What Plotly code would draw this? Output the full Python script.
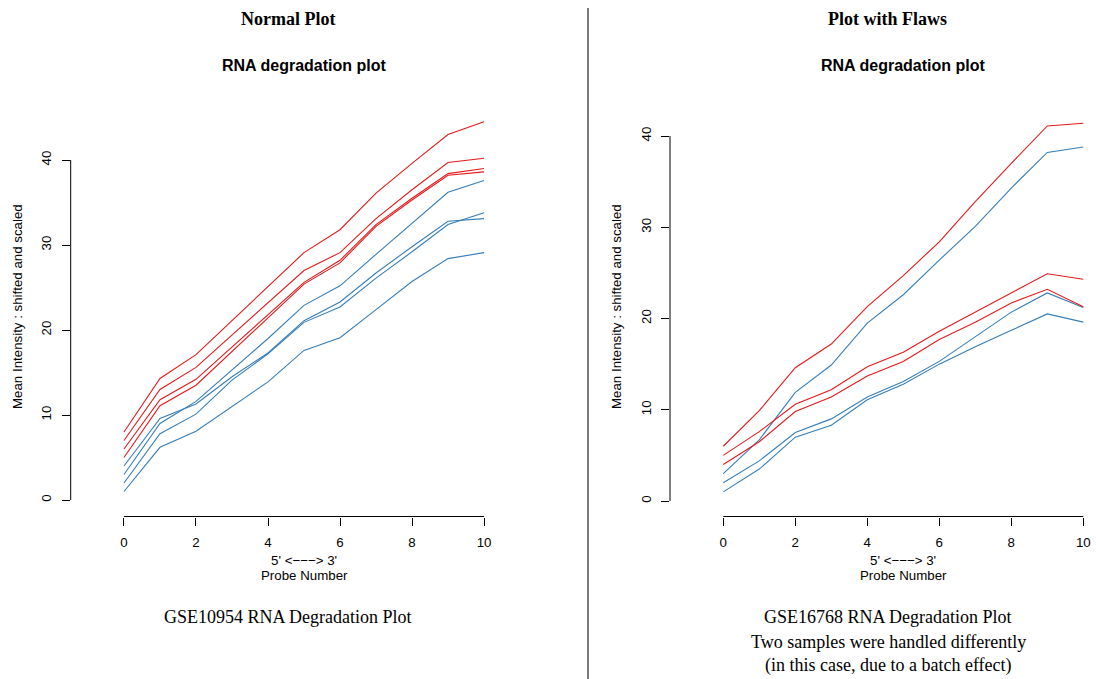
import plotly.graph_objects as go

# ---------------- data ----------------
probe_number = list(range(11))
x_tick_vals = [0, 2, 4, 6, 8, 10]
y_tick_vals = [0, 10, 20, 30, 40]

# GSE10954 (normal plot)
left_red = [
    [8.0, 14.3, 17.1, 21.1, 25.1, 29.1, 31.8, 36.1, 39.6, 43.0, 44.5],
    [7.0, 13.0, 15.6, 19.4, 23.2, 27.0, 29.1, 33.1, 36.5, 39.7, 40.2],
    [6.0, 11.8, 14.2, 18.0, 21.8, 25.6, 28.2, 32.4, 35.5, 38.4, 39.0],
    [5.0, 11.1, 13.5, 17.5, 21.4, 25.4, 27.9, 32.2, 35.3, 38.2, 38.6],
]
left_blue = [
    [4.0, 9.6, 11.3, 14.5, 17.3, 21.1, 23.3, 26.7, 29.8, 32.8, 33.1],
    [3.0, 9.0, 11.6, 15.3, 19.0, 22.9, 25.2, 28.9, 32.5, 36.2, 37.6],
    [2.0, 7.8, 10.1, 14.1, 17.2, 20.9, 22.7, 26.1, 29.2, 32.4, 33.8],
    [1.0, 6.2, 8.1, 11.0, 13.9, 17.6, 19.1, 22.4, 25.7, 28.4, 29.1],
]

# GSE16768 (plot with flaws)
right_red = [
    [6.0, 9.9, 14.6, 17.2, 21.3, 24.7, 28.4, 32.8, 37.0, 41.1, 41.4],
    [5.0, 7.6, 10.6, 12.2, 14.7, 16.3, 18.6, 20.7, 22.8, 24.9, 24.3],
    [4.0, 6.5, 9.8, 11.4, 13.7, 15.3, 17.7, 19.6, 21.7, 23.2, 21.3],
]
right_blue = [
    [3.0, 6.7, 11.9, 14.9, 19.5, 22.6, 26.4, 30.1, 34.3, 38.2, 38.8],
    [2.0, 4.4, 7.5, 9.0, 11.4, 13.1, 15.3, 18.0, 20.7, 22.8, 21.2],
    [1.0, 3.5, 7.0, 8.3, 11.1, 12.8, 15.0, 16.9, 18.7, 20.5, 19.6],
]

# ---------------- styling ----------------
W, H = 1096, 679
RED = "#E41A1C"
BLUE = "#377EB8"
SANS = "Liberation Sans, Arial, Helvetica, sans-serif"
SERIF = "Liberation Serif, Times New Roman, serif"


def fx(p):
    return p / W


def fy(p):
    return 1 - p / H


fig = go.Figure()

for series, color, xa, ya in [
    (left_blue, BLUE, "x", "y"),
    (left_red, RED, "x", "y"),
    (right_blue, BLUE, "x2", "y2"),
    (right_red, RED, "x2", "y2"),
]:
    for vals in series:
        fig.add_trace(go.Scatter(
            x=probe_number, y=vals, mode="lines",
            line=dict(color=color, width=1.1),
            xaxis=xa, yaxis=ya, showlegend=False, hoverinfo="skip",
        ))

axis_common = dict(
    showgrid=False, zeroline=False, showline=False,
    ticks="outside", ticklen=8, tickwidth=1, tickcolor="black",
    tickfont=dict(family=SANS, size=13.3, color="black"),
)

bottom_px = 516.5
top_px = 97

fig.update_layout(
    width=W, height=H,
    margin=dict(l=0, r=0, t=0, b=0),
    paper_bgcolor="white", plot_bgcolor="white",
    showlegend=False,
    xaxis=dict(domain=[fx(70.7), fx(537.3)], range=[-1.48, 11.48],
               tickvals=x_tick_vals, anchor="y", ticklabelstandoff=6, **axis_common),
    yaxis=dict(domain=[fy(bottom_px), fy(top_px)],
               range=[(500 - bottom_px) / 8.5, (500 - top_px) / 8.5],
               tickvals=y_tick_vals, tickangle=-90, anchor="x",
               ticklabelstandoff=5, **axis_common),
    xaxis2=dict(domain=[fx(670.0), 1.0], range=[-1.48, (W - 723.3) / 36.0],
                tickvals=x_tick_vals, anchor="y2", ticklabelstandoff=6, **axis_common),
    yaxis2=dict(domain=[fy(bottom_px), fy(top_px)],
                range=[(501 - bottom_px) / 9.125, (501 - top_px) / 9.125],
                tickvals=y_tick_vals, tickangle=-90, anchor="x2",
                ticklabelstandoff=5, **axis_common),
)

shapes = [
    # R-style axis lines spanning first to last tick
    dict(type="line", xref="x", yref="paper", x0=0, x1=10,
         y0=fy(bottom_px), y1=fy(bottom_px), line=dict(color="black", width=1)),
    dict(type="line", xref="paper", yref="y", x0=fx(70.7), x1=fx(70.7),
         y0=0, y1=40, line=dict(color="black", width=1)),
    dict(type="line", xref="x2", yref="paper", x0=0, x1=10,
         y0=fy(bottom_px), y1=fy(bottom_px), line=dict(color="black", width=1)),
    dict(type="line", xref="paper", yref="y2", x0=fx(670.0), x1=fx(670.0),
         y0=0, y1=40, line=dict(color="black", width=1)),
    # separator between panels
    dict(type="line", xref="paper", yref="paper", x0=fx(588), x1=fx(588),
         y0=0, y1=fy(8), line=dict(color="#7a7a7a", width=2)),
]
fig.update_layout(shapes=shapes)


def ann(text, xp, yp, family, size, angle=0):
    return dict(text=text, xref="paper", yref="paper", x=fx(xp), y=fy(yp),
                xanchor="center", yanchor="middle", showarrow=False,
                textangle=angle, font=dict(family=family, size=size, color="black"))


annotations = [
    ann("<b>Normal Plot</b>", 288, 19, SERIF, 18),
    ann("<b>Plot with Flaws</b>", 887, 19, SERIF, 18),
    ann("<b>RNA degradation plot</b>", 304, 66, SANS, 16),
    ann("<b>RNA degradation plot</b>", 903, 66, SANS, 16),
    ann("5' <\u2212\u2212\u2212> 3'", 304, 560, SANS, 13.3),
    ann("Probe Number", 304, 575.5, SANS, 13.3),
    ann("5' <\u2212\u2212\u2212> 3'", 903, 560, SANS, 13.3),
    ann("Probe Number", 903, 575.5, SANS, 13.3),
    ann("Mean Intensity : shifted and scaled", 18, 307, SANS, 13.3, -90),
    ann("Mean Intensity : shifted and scaled", 617, 307, SANS, 13.3, -90),
    ann("GSE10954 RNA Degradation Plot", 288, 617, SERIF, 18),
    ann("GSE16768 RNA Degradation Plot", 888, 617, SERIF, 18),
    ann("Two samples were handled differently", 888, 641.5, SERIF, 18),
    ann("(in this case, due to a batch effect)", 888, 665.5, SERIF, 18),
]
fig.update_layout(annotations=annotations)

fig.write_html("out.html")
